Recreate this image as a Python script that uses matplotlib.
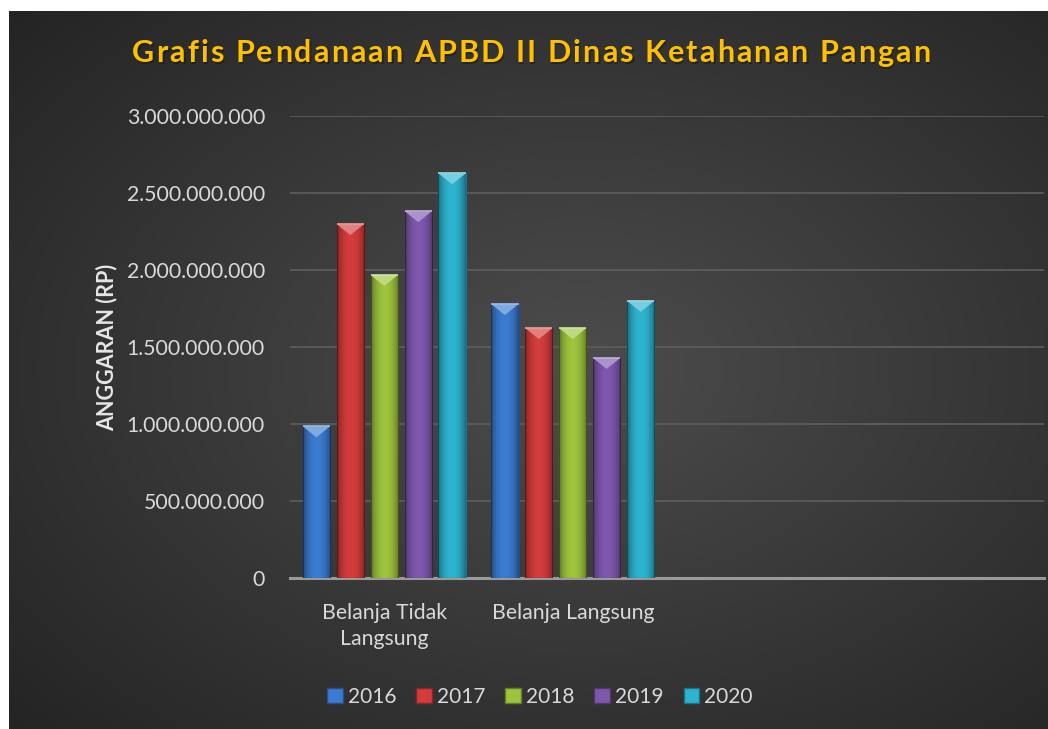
import numpy as np
import matplotlib
matplotlib.use("Agg")
import matplotlib.pyplot as plt
import matplotlib.patches as mpatches
from matplotlib.ticker import FuncFormatter

# ── Data ──────────────────────────────────────────────────────────────────────
CATEGORIES = ["Belanja Tidak\nLangsung", "Belanja Langsung", "", ""]
YEARS = ["2016", "2017", "2018", "2019", "2020"]
V2016 = [985_000_000, 1_779_000_000]
V2017 = [2_298_000_000, 1_623_000_000]
V2018 = [1_968_000_000, 1_623_000_000]
V2019 = [2_382_000_000, 1_429_000_000]
V2020 = [2_628_000_000, 1_800_000_000]
SERIES = [V2016, V2017, V2018, V2019, V2020]

COLORS = ["#3b7bd0", "#d33c3a", "#9dc43c", "#7d58ad", "#2db3cf"]
TITLE = "Grafis Pendanaan APBD II Dinas Ketahanan Pangan"
YLABEL = "ANGGARAN (RP)"

W, H = 1048, 729
plt.rcParams["font.family"] = ["Lato", "DejaVu Sans"]


def lighten(c, f):
    rgb = np.array(matplotlib.colors.to_rgb(c))
    return tuple(rgb + (1 - rgb) * f)


def darken(c, f):
    rgb = np.array(matplotlib.colors.to_rgb(c))
    return tuple(rgb * (1 - f))


fig = plt.figure(figsize=(W / 100, H / 100), dpi=100, facecolor="white")

# ── Dark radial background ────────────────────────────────────────────────────
bg = fig.add_axes([9 / W, 0, 1 - 9 / W, 1 - 11 / H])
bg.set_axis_off()
yy, xx = np.mgrid[0:1:300j, 0:1:400j]
r = np.sqrt(((xx - 0.55) / 0.75) ** 2 + ((yy - 0.5) / 0.75) ** 2)
shade = np.clip(0.30 - 0.16 * r, 0.13, 0.30)
bg.imshow(np.dstack([shade] * 3), aspect="auto", extent=[0, 1, 0, 1])

# ── Plot area ─────────────────────────────────────────────────────────────────
ax = fig.add_axes([290 / W, 1 - 578 / H, (1044 - 290) / W, (578 - 116) / H])
ax.patch.set_alpha(0)
ax.set_xlim(-0.5, len(CATEGORIES) - 0.5)
ax.set_ylim(0, 3_000_000_000)
ax.set_yticks(np.arange(0, 3_000_000_001, 500_000_000))
ax.yaxis.set_major_formatter(
    FuncFormatter(lambda v, p: f"{int(v):,}".replace(",", ".")))
ax.grid(axis="y", color="#5e5e5e", lw=1.2)
ax.set_axisbelow(True)
for s in ["top", "right", "left"]:
    ax.spines[s].set_visible(False)
ax.spines["bottom"].set_color("#9a9a9a")
ax.spines["bottom"].set_linewidth(2.2)
ax.tick_params(axis="both", length=0, colors="#d9d9d9", labelsize=15.3)
ax.tick_params(axis="y", pad=18)
ax.tick_params(axis="x", pad=18)
ax.set_xticks(np.arange(len(CATEGORIES)))
ax.set_xticklabels(CATEGORIES, linespacing=1.35)

ax.set_ylabel(YLABEL, color="#e6e6e6", fontsize=15.5, fontweight="bold")
ax.yaxis.set_label_coords((117 - 290) / (1044 - 290), 0.5)

# pixel -> data scale for bevel height
px_per_unit = ((578 - 116) / 3_000_000_000)
bevel_h = 11 / px_per_unit

step, width = 0.18, 0.145
x = np.arange(len(V2016))
shade_prof = np.linspace(-1, 1, 60)
alpha_prof = 0.38 * np.abs(shade_prof) ** 2.2
overlay = np.zeros((1, 60, 4))
overlay[0, :, 3] = alpha_prof

for j, (vals, col, yr) in enumerate(zip(SERIES, COLORS, YEARS)):
    bars = ax.bar(x + (j - 2) * step, vals, width=width, color=col,
                  edgecolor=darken(col, 0.35), lw=0.8, label=yr, zorder=3)
    for b in bars:
        x0, w, h = b.get_x(), b.get_width(), b.get_height()
        im = ax.imshow(overlay, extent=[x0, x0 + w, 0, h], aspect="auto",
                       zorder=4)
        im.set_clip_path(b)
        tri = mpatches.Polygon([[x0, h], [x0 + w, h], [x0 + w / 2, h - bevel_h]],
                               closed=True, facecolor=lighten(col, 0.35),
                               edgecolor="none", zorder=5)
        ax.add_patch(tri)
        ax.plot([x0, x0 + w], [h, h], color=lighten(col, 0.5), lw=1.2,
                zorder=6, solid_capstyle="butt")
ax.set_xlim(-0.5, len(CATEGORIES) - 0.5)
ax.set_ylim(0, 3_000_000_000)

# ── Title (letter-spaced, laid out char by char) ──────────────────────────────
renderer = fig.canvas.get_renderer()
title_kw = dict(color="#ffc000", fontsize=22, fontweight="bold",
                va="center", ha="left")


def text_w(s):
    t = fig.text(0, 0, s + "l", **title_kw)
    w_full = t.get_window_extent(renderer).width
    t.remove()
    t = fig.text(0, 0, "l", **title_kw)
    w_l = t.get_window_extent(renderer).width
    t.remove()
    return w_full - w_l if s else 0.0


target_left, target_right = 132, 930
base_w = text_w(TITLE)
gap = (target_right - target_left - base_w) / (len(TITLE) - 1)
ty = 1 - 53 / H
for i, ch in enumerate(TITLE):
    if ch == " ":
        continue
    xpix = target_left + text_w(TITLE[:i]) + i * gap
    fig.text(xpix / W + 1.5 / W, ty - 2 / H, ch, color="#1a1a1a", alpha=0.6,
             **{k: v for k, v in title_kw.items() if k != "color"})
    fig.text(xpix / W, ty, ch, **title_kw)

# ── Legend ────────────────────────────────────────────────────────────────────
handles = [mpatches.Patch(facecolor=c, edgecolor=darken(c, 0.35), label=y)
           for c, y in zip(COLORS, YEARS)]
fig.legend(handles=handles, loc="center", bbox_to_anchor=(540 / W, 1 - 697 / H),
           ncol=5, frameon=False, fontsize=15, labelcolor="#d9d9d9",
           handlelength=0.75, handleheight=0.75, handletextpad=0.25,
           columnspacing=0.95)

fig.savefig("out.png", dpi=100)
